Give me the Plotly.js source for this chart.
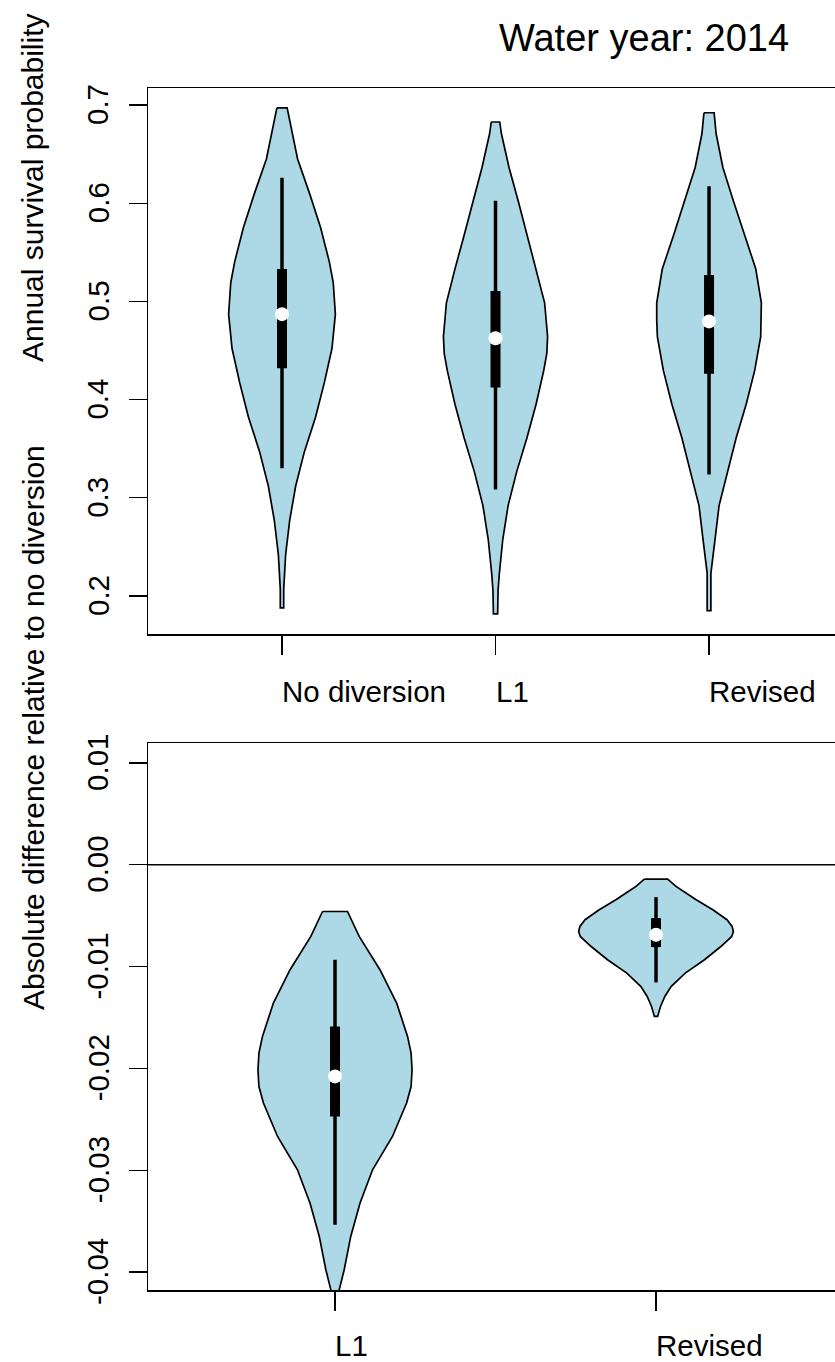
<!DOCTYPE html>
<html><head><meta charset="utf-8">
<script src="https://cdn.plot.ly/plotly-3.0.1.min.js"></script>
<style>html,body{margin:0;padding:0;background:#fff}</style>
</head><body><div id="chart" style="width:835px;height:1362px"></div>
<script>
// ---------------- DATA ----------------
const chartTitle = "Water year: 2014";
const topCategories = ["No diversion", "L1", "Revised"];
const bottomCategories = ["L1", "Revised"];
const topYLabel = "Annual survival probability";
const bottomYLabel = "Absolute difference relative to no diversion";
const topTickVals = [0.2, 0.3, 0.4, 0.5, 0.6, 0.7];
const topTickText = ["0.2", "0.3", "0.4", "0.5", "0.6", "0.7"];
const bottomTickVals = [-0.04, -0.03, -0.02, -0.01, 0.00, 0.01];
const bottomTickText = ["-0.04", "-0.03", "-0.02", "-0.01", "0.00", "0.01"];

// Violin density profiles (value, scaled half-width of the density)
const noDivVal = [0.697, 0.680, 0.645, 0.610, 0.575, 0.540, 0.519, 0.487, 0.452, 0.417, 0.382, 0.347, 0.312, 0.277, 0.242, 0.207, 0.188];
const noDivDen = [0.024, 0.039, 0.073, 0.129, 0.181, 0.222, 0.240, 0.250, 0.234, 0.198, 0.157, 0.105, 0.064, 0.036, 0.017, 0.008, 0.008];

const l1Val = [0.6827, 0.6707, 0.6363, 0.6018, 0.5674, 0.5330, 0.4986, 0.4641, 0.4469, 0.4297, 0.3952, 0.3608, 0.3264, 0.2920, 0.2575, 0.2231, 0.2059, 0.1818];
const l1Den = [0.0198, 0.0277, 0.0633, 0.107, 0.147, 0.190, 0.230, 0.244, 0.240, 0.226, 0.190, 0.147, 0.099, 0.059, 0.034, 0.018, 0.012, 0.010];

const revVal = [0.6921, 0.6707, 0.6363, 0.6018, 0.5674, 0.5330, 0.4986, 0.4814, 0.4641, 0.4297, 0.3952, 0.3608, 0.3264, 0.2920, 0.2575, 0.2300, 0.2231, 0.1852];
const revDen = [0.0238, 0.0333, 0.0649, 0.115, 0.166, 0.219, 0.245, 0.245, 0.242, 0.214, 0.174, 0.127, 0.087, 0.047, 0.028, 0.013, 0.0087, 0.0087];

const l1DiffVal = [-0.00459, -0.00704, -0.01031, -0.01359, -0.01686, -0.01850, -0.02014, -0.02178, -0.02341, -0.02669, -0.02996, -0.03323, -0.03651, -0.03978, -0.04175, -0.0425];
const l1DiffDen = [0.0389, 0.0753, 0.140, 0.192, 0.226, 0.237, 0.240, 0.237, 0.223, 0.179, 0.117, 0.078, 0.049, 0.0286, 0.013, 0.010];

const revDiffVal = [-0.00141, -0.00213, -0.00278, -0.00344, -0.00442, -0.00540, -0.00606, -0.00655, -0.00704, -0.00803, -0.00933, -0.01064, -0.01196, -0.01294, -0.01392, -0.01490];
const revDiffDen = [0.0363, 0.0623, 0.0935, 0.125, 0.177, 0.221, 0.237, 0.241, 0.236, 0.202, 0.151, 0.091, 0.047, 0.0275, 0.014, 0.005];

// Box statistics per category (lower adjacent, Q1, median, Q3, upper adjacent)
const topLow = [0.330, 0.3085, 0.3236];
const topQ1 = [0.432, 0.4124, 0.4263];
const topMed = [0.487, 0.4624, 0.4796];
const topQ3 = [0.533, 0.5106, 0.5268];
const topHigh = [0.626, 0.6025, 0.6173];

const botLow = [-0.03536, -0.01156];
const botQ1 = [-0.02472, -0.00809];
const botMed = [-0.02079, -0.00688];
const botQ3 = [-0.01588, -0.00524];
const botHigh = [-0.00933, -0.00318];

// ---------------- DRAW ----------------
const W = 835, H = 1362;
const px = v => v / W;
const py = v => 1 - v / H;
const FONT = 'Liberation Sans, Arial, Helvetica, sans-serif';
const FS = 29.5;
const FILL = '#ADD8E6';

function violin(pos, vals, dens, xa, ya) {
  const xs = [], ys = [];
  for (let i = 0; i < vals.length; i++) { xs.push(pos - dens[i]); ys.push(vals[i]); }
  for (let i = vals.length - 1; i >= 0; i--) { xs.push(pos + dens[i]); ys.push(vals[i]); }
  xs.push(xs[0]); ys.push(ys[0]);
  return {x: xs, y: ys, xaxis: xa, yaxis: ya, type: 'scatter', mode: 'lines', fill: 'toself',
    fillcolor: FILL, line: {color: 'black', width: 1.7}, hoverinfo: 'skip'};
}
function boxParts(pos, lo, q1, med, q3, hi, xa, ya) {
  return [
    {x: [pos, pos], y: [lo, hi], xaxis: xa, yaxis: ya, type: 'scatter', mode: 'lines', line: {color: 'black', width: 3.5}, hoverinfo: 'skip'},
    {x: [pos, pos], y: [q1, q3], xaxis: xa, yaxis: ya, type: 'scatter', mode: 'lines', line: {color: 'black', width: 10}, hoverinfo: 'skip'},
    {x: [pos], y: [med], xaxis: xa, yaxis: ya, type: 'scatter', mode: 'markers', marker: {color: 'white', size: 14, line: {width: 0}}, hoverinfo: 'skip'}
  ];
}

const traces = [];
const topVals = [noDivVal, l1Val, revVal];
const topDens = [noDivDen, l1Den, revDen];
topCategories.forEach((c, i) => {
  traces.push(violin(i + 1, topVals[i], topDens[i], 'x', 'y'));
  traces.push(...boxParts(i + 1, topLow[i], topQ1[i], topMed[i], topQ3[i], topHigh[i], 'x', 'y'));
});
const botVals = [l1DiffVal, revDiffVal];
const botDens = [l1DiffDen, revDiffDen];
bottomCategories.forEach((c, i) => {
  traces.push(violin(i + 1, botVals[i], botDens[i], 'x2', 'y2'));
  traces.push(...boxParts(i + 1, botLow[i], botQ1[i], botMed[i], botQ3[i], botHigh[i], 'x2', 'y2'));
});

const axisCommon = {showgrid: false, zeroline: false, showline: true, linecolor: 'black', linewidth: 1.5,
  ticks: 'outside', tickcolor: 'black', tickwidth: 1.3, showticklabels: false, fixedrange: true, automargin: false};

const txt = size => ({family: FONT, size: size, color: 'black'});
const annotations = [];
annotations.push({text: chartTitle, xref: 'paper', yref: 'paper', x: px(497), y: py(38), xanchor: 'left', yanchor: 'middle',
  showarrow: false, font: txt(38)});
topCategories.forEach((c, i) => annotations.push({text: c, xref: 'x', yref: 'paper', x: i + 1, y: py(692),
  xanchor: 'left', yanchor: 'middle', showarrow: false, xshift: -2, font: txt(FS)}));
bottomCategories.forEach((c, i) => annotations.push({text: c, xref: 'x2', yref: 'paper', x: i + 1, y: py(1345),
  xanchor: 'left', yanchor: 'middle', showarrow: false, xshift: -2, font: txt(FS)}));
topTickVals.forEach((v, i) => annotations.push({text: topTickText[i], xref: 'paper', yref: 'y', x: px(98), y: v,
  xanchor: 'center', yanchor: 'middle', textangle: -90, showarrow: false, font: txt(FS)}));
bottomTickVals.forEach((v, i) => annotations.push({text: bottomTickText[i], xref: 'paper', yref: 'y2', x: px(98), y: v,
  xanchor: 'center', yanchor: 'middle', textangle: -90, showarrow: false, font: txt(FS)}));
annotations.push({text: topYLabel, xref: 'paper', yref: 'paper', x: px(33), y: py(188), xanchor: 'center', yanchor: 'middle',
  textangle: -90, showarrow: false, font: txt(FS + 0.5)});
annotations.push({text: bottomYLabel, xref: 'paper', yref: 'paper', x: px(33), y: py(728), xanchor: 'center', yanchor: 'middle',
  textangle: -90, showarrow: false, font: txt(FS + 0.5)});

const layout = {
  width: W, height: H, margin: {l: 0, r: 0, t: 0, b: 0, pad: 0},
  paper_bgcolor: 'white', plot_bgcolor: 'white', showlegend: false,
  font: txt(FS),
  xaxis: Object.assign({}, axisCommon, {domain: [px(148), 1], range: [0.3724, 3.590], mirror: true, ticklen: 19, tickvals: [1, 2, 3], anchor: 'y'}),
  yaxis: Object.assign({}, axisCommon, {domain: [py(634), py(88)], range: [0.1613, 0.7173], ticklen: 18, tickvals: topTickVals, anchor: 'x'}),
  xaxis2: Object.assign({}, axisCommon, {domain: [px(148), 1], range: [0.4174, 2.5576], mirror: true, ticklen: 19, tickvals: [1, 2], anchor: 'y2'}),
  yaxis2: Object.assign({}, axisCommon, {domain: [py(1290), py(743)], range: [-0.04177, 0.01196], ticklen: 18, tickvals: bottomTickVals, anchor: 'x2'}),
  shapes: [{type: 'line', xref: 'x2 domain', yref: 'y2', x0: 0, x1: 1, y0: 0, y1: 0, line: {color: 'black', width: 1.5}}],
  annotations: annotations
};

Plotly.newPlot('chart', traces, layout, {staticPlot: true, displayModeBar: false});
</script>
</body></html>
